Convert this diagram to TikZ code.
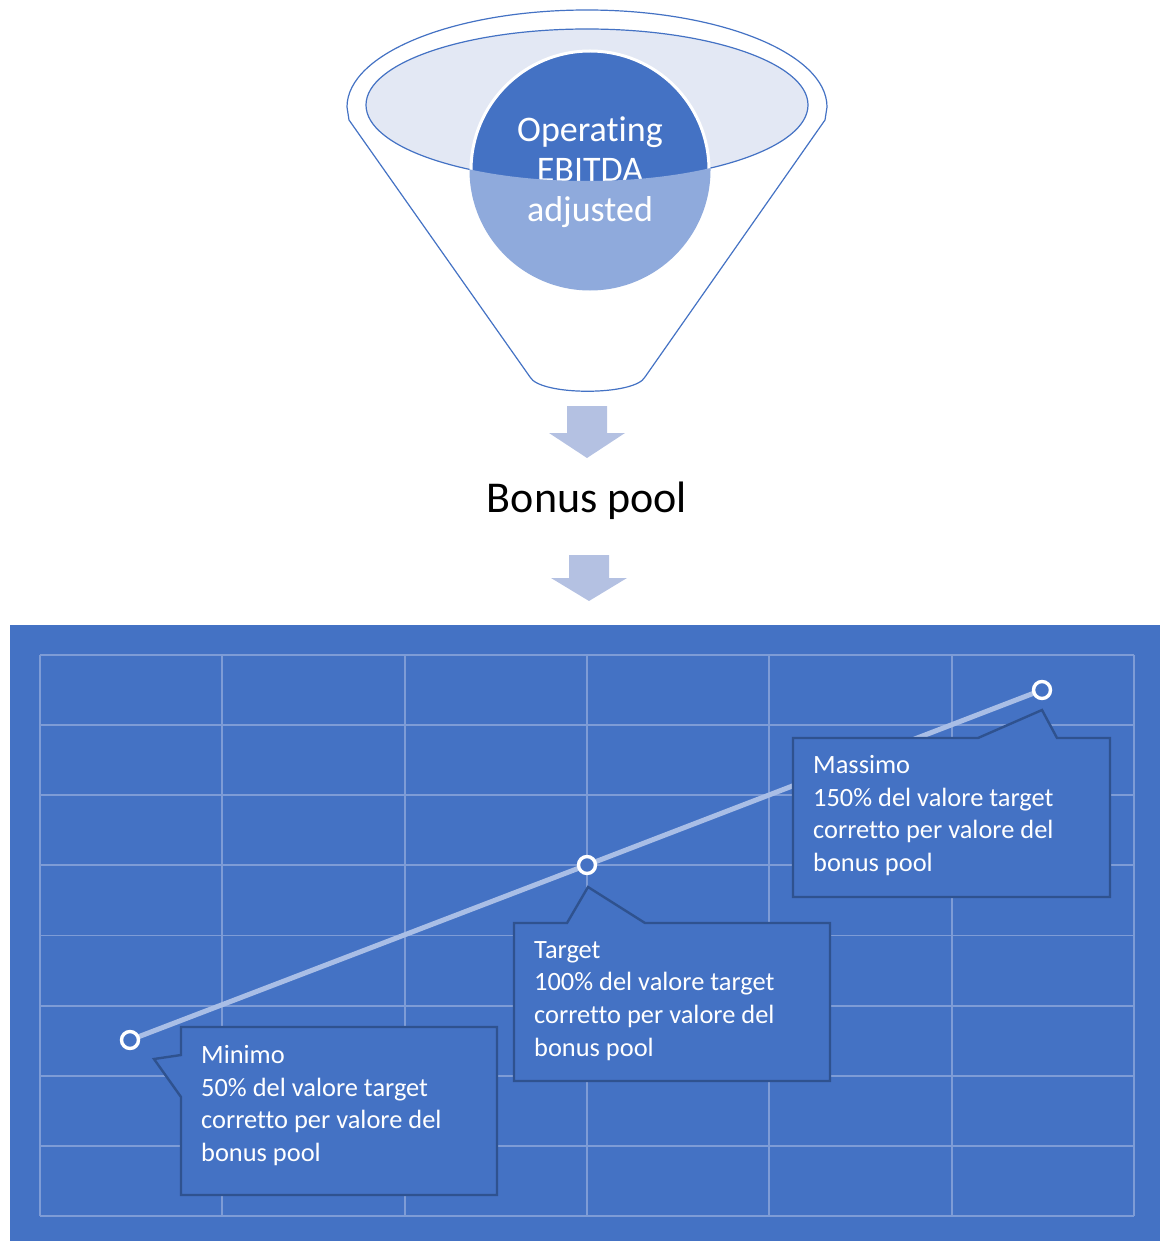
\documentclass[tikz,border=0pt]{standalone}
\usepackage{fontspec}
\setmainfont{Carlito}[Ligatures=NoCommon]
\definecolor{accent}{HTML}{4472C4}
\definecolor{calloutborder}{HTML}{2F528F}
\definecolor{lightcircle}{HTML}{8FAADC}
\definecolor{rimfill}{HTML}{E3E8F4}
\definecolor{arrowfill}{HTML}{B4C1E2}
\definecolor{trendc}{HTML}{A9BEE6}
\definecolor{gridc}{HTML}{7E9CD6}
\begin{document}
\begin{tikzpicture}[x=1pt,y=-1pt,
  funnelline/.style={draw=accent, line width=1.2pt},
  downarrow/.style={fill=arrowfill},
  gridline/.style={draw=gridc, line width=1.8pt},
  trendline/.style={draw=trendc, line width=5pt},
  marker/.style={circle, draw=white, fill=accent, line width=3.4pt, minimum size=17pt, inner sep=0pt},
  calloutbox/.style={fill=accent, draw=calloutborder, line width=2.4pt, line join=miter},
  callouttext/.style={anchor=north west, inner sep=0pt, align=left, text=white, font=\fontsize{26.4}{32.7}\selectfont},
  funneltext/.style={text=white, inner sep=0pt, align=center, font=\fontsize{36}{41}\selectfont}
]
\useasboundingbox (0,0) rectangle (1160,1241);

% ---------- funnel ----------
\draw[funnelline, fill=white, line join=round]
  (349,120) -- (347,107) arc[start angle=180, end angle=360, x radius=240, y radius=97]
  -- (825,120) -- (645,377) .. controls (635,396) and (540,396) .. (530,377) -- cycle;
\draw[funnelline, fill=rimfill] (587,105) ellipse [x radius=221, y radius=76];
\node[circle, fill=accent, draw=white, line width=3pt, minimum size=238pt, inner sep=0pt] (ebitda) at (590,170) {};
\node[funneltext, anchor=base] (optext) at (590,182) {Operating\\[-0.4pt]EBITDA};
\begin{scope}
  \clip (366,105) arc[start angle=180, end angle=0, x radius=221, y radius=76] -- (808,320) -- (366,320) -- cycle;
  \fill[lightcircle] (ebitda.center) circle [radius=120.5];
\end{scope}
\node[funneltext, anchor=base] (adjtext) at (590,222) {adjusted};

% ---------- arrows and bonus pool ----------
\fill[downarrow] (567,406) -- (607,406) -- (607,433) -- (625,433) -- (587,458) -- (549,433) -- (567,433) -- cycle;
\node[inner sep=0pt, anchor=base, font=\fontsize{44}{50}\selectfont] (bonus) at (587,512) {Bonus pool};
\fill[downarrow] (569,555) -- (609,555) -- (609,578) -- (627,578) -- (589,601) -- (551,578) -- (569,578) -- cycle;

% ---------- chart ----------
\fill[accent] (10,625) rectangle (1160,1241);
\foreach \i in {0,...,6} {
  \draw[gridline] ({40+\i*182.33},655) -- ({40+\i*182.33},1216);
}
\foreach \j in {0,...,8} {
  \draw[gridline] (40,{655+\j*70.125}) -- (1134,{655+\j*70.125});
}

\coordinate (cmin) at (130,1040);
\coordinate (ctar) at (587,865);
\coordinate (cmax) at (1042,690);
\draw[trendline] (cmin) -- (ctar) -- (cmax);

% callouts
\draw[calloutbox] (793,738) -- (978,738) -- (1042,710) -- (1057,738) -- (1110,738) -- (1110,897) -- (793,897) -- cycle;
\node[callouttext] (massimo) at (813,755) {Massimo\\150\% del valore target\\corretto per valore del\\bonus pool};

\draw[calloutbox] (514,923) -- (567,923) -- (588,887) -- (645,923) -- (830,923) -- (830,1081) -- (514,1081) -- cycle;
\node[callouttext] (target) at (534,941) {Target\\100\% del valore target\\corretto per valore del\\bonus pool};

\draw[calloutbox] (181,1027) -- (497,1027) -- (497,1195) -- (181,1195) -- (181,1097) -- (154,1059) -- (181,1055) -- cycle;
\node[callouttext] (minimo) at (201,1045) {Minimo\\50\% del valore target\\corretto per valore del\\bonus pool};

% markers
\node[marker] (pmin) at (cmin) {};
\node[marker] (ptar) at (ctar) {};
\node[marker] (pmax) at (cmax) {};
\end{tikzpicture}
\end{document}
